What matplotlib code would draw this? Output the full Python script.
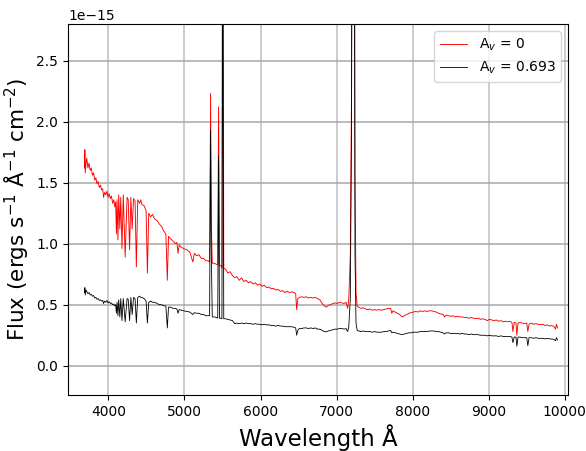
import numpy as np
import matplotlib
matplotlib.use("Agg")
import matplotlib.pyplot as plt

# Wavelength (Angstrom)
wavelength = [
    3685, 3690, 3695, 3705, 3715, 3730, 3745, 3760, 3775, 3790,
    3805, 3820, 3835, 3850, 3865, 3880, 3895, 3910, 3925, 3935,
    3950, 3965, 3980, 3995, 4010, 4025, 4040, 4055, 4070, 4085,
    4095, 4105, 4113, 4125, 4135, 4150, 4162, 4178, 4195, 4220,
    4245, 4260, 4278, 4295, 4312, 4330, 4350, 4367, 4385, 4410,
    4425, 4440, 4470, 4495, 4512, 4530, 4555, 4580, 4610, 4640,
    4670, 4700, 4730, 4755, 4774, 4790, 4820, 4850, 4880, 4900,
    4915, 4930, 4960, 4990, 5030, 5070, 5110, 5130, 5160, 5190,
    5220, 5250, 5280, 5310, 5330, 5343, 5352, 5365, 5395, 5420,
    5437, 5448, 5460, 5480, 5492, 5503, 5516, 5540, 5570, 5600,
    5630, 5660, 5690, 5720, 5750, 5780, 5810, 5840, 5870, 5900,
    5930, 5960, 5990, 6020, 6050, 6080, 6110, 6140, 6170, 6200,
    6230, 6260, 6290, 6320, 6350, 6380, 6410, 6440, 6462, 6475,
    6490, 6510, 6540, 6570, 6600, 6630, 6660, 6690, 6720, 6750,
    6780, 6810, 6840, 6865, 6890, 6920, 6950, 6980, 7010, 7040,
    7070, 7100, 7125, 7145, 7160, 7180, 7195, 7210, 7228, 7242,
    7255, 7270, 7290, 7320, 7350, 7380, 7410, 7440, 7470, 7500,
    7530, 7560, 7590, 7620, 7650, 7680, 7710, 7725, 7740, 7770,
    7800, 7830, 7860, 7890, 7920, 7950, 7980, 8010, 8040, 8070,
    8100, 8130, 8160, 8190, 8220, 8250, 8280, 8310, 8340, 8370,
    8400, 8420, 8440, 8470, 8500, 8530, 8560, 8590, 8620, 8650,
    8680, 8710, 8740, 8770, 8800, 8830, 8860, 8890, 8920, 8950,
    8980, 9010, 9040, 9070, 9100, 9130, 9160, 9190, 9220, 9250,
    9280, 9305, 9318, 9335, 9358, 9370, 9385, 9410, 9440, 9470,
    9500, 9514, 9530, 9560, 9590, 9620, 9650, 9680, 9710, 9740,
    9770, 9800, 9830, 9860, 9878, 9890, 9905,
]

# Flux for A_v = 0 (units of 1e-15 ergs/s/A/cm^2)
flux_av0 = [
    1.62, 1.77, 1.58, 1.66, 1.70, 1.62, 1.66, 1.60, 1.62, 1.56,
    1.58, 1.52, 1.54, 1.49, 1.51, 1.46, 1.48, 1.44, 1.45, 1.38,
    1.42, 1.40, 1.43, 1.38, 1.41, 1.37, 1.39, 1.33, 1.36, 1.30,
    1.34, 1.08, 1.36, 1.03, 1.40, 1.12, 1.38, 0.96, 1.40, 0.89,
    1.38, 1.36, 0.95, 1.38, 1.12, 1.37, 1.35, 0.81, 1.36, 1.33,
    1.36, 1.32, 1.31, 1.27, 0.76, 1.25, 1.22, 1.24, 1.20, 1.19,
    1.16, 1.14, 1.10, 1.08, 0.70, 1.06, 1.04, 1.02, 1.00, 1.01,
    0.92, 0.99, 0.97, 0.96, 0.95, 0.93, 0.85, 0.92, 0.90, 0.91,
    0.88, 0.88, 0.86, 0.86, 0.85, 2.23, 1.17, 0.84, 0.84, 0.83,
    0.83, 2.12, 0.82, 0.82, 0.80, 6.00, 0.80, 0.79, 0.76, 0.77,
    0.74, 0.72, 0.73, 0.70, 0.72, 0.69, 0.70, 0.68, 0.69, 0.67,
    0.68, 0.66, 0.67, 0.65, 0.66, 0.64, 0.645, 0.63, 0.635, 0.62,
    0.625, 0.61, 0.615, 0.60, 0.61, 0.60, 0.605, 0.60, 0.59, 0.46,
    0.55, 0.56, 0.565, 0.56, 0.565, 0.555, 0.56, 0.555, 0.56, 0.55,
    0.54, 0.51, 0.49, 0.48, 0.495, 0.50, 0.51, 0.515, 0.51, 0.52,
    0.515, 0.51, 0.52, 0.47, 0.55, 0.90, 2.15, 9.0, 9.0, 1.5,
    0.60, 0.49, 0.48, 0.47, 0.475, 0.465, 0.46, 0.465, 0.455, 0.46,
    0.455, 0.46, 0.455, 0.46, 0.465, 0.47, 0.47, 0.43, 0.45, 0.44,
    0.43, 0.42, 0.40, 0.41, 0.42, 0.43, 0.435, 0.44, 0.445, 0.44,
    0.45, 0.445, 0.45, 0.445, 0.45, 0.45, 0.445, 0.44, 0.43, 0.425,
    0.42, 0.40, 0.415, 0.41, 0.405, 0.41, 0.40, 0.405, 0.40, 0.40,
    0.395, 0.395, 0.39, 0.395, 0.39, 0.385, 0.39, 0.38, 0.385, 0.38,
    0.37, 0.38, 0.375, 0.37, 0.375, 0.365, 0.37, 0.36, 0.365, 0.36,
    0.365, 0.355, 0.28, 0.355, 0.35, 0.25, 0.35, 0.355, 0.35, 0.345,
    0.35, 0.28, 0.34, 0.35, 0.34, 0.345, 0.34, 0.335, 0.34, 0.33,
    0.335, 0.325, 0.33, 0.32, 0.30, 0.34, 0.31,
]

# Flux for A_v = 0.693 (units of 1e-15 ergs/s/A/cm^2)
flux_av0693 = [
    0.60, 0.64, 0.58, 0.62, 0.61, 0.59, 0.60, 0.58, 0.585, 0.57,
    0.575, 0.555, 0.56, 0.545, 0.55, 0.535, 0.54, 0.53, 0.535, 0.51,
    0.53, 0.52, 0.535, 0.515, 0.525, 0.51, 0.515, 0.50, 0.505, 0.49,
    0.50, 0.43, 0.52, 0.41, 0.54, 0.40, 0.55, 0.37, 0.55, 0.36,
    0.55, 0.545, 0.37, 0.56, 0.42, 0.56, 0.55, 0.35, 0.56, 0.57,
    0.56, 0.56, 0.55, 0.53, 0.35, 0.52, 0.53, 0.52, 0.52, 0.51,
    0.50, 0.50, 0.49, 0.49, 0.31, 0.48, 0.48, 0.47, 0.47, 0.465,
    0.43, 0.46, 0.455, 0.45, 0.445, 0.44, 0.42, 0.435, 0.43, 0.43,
    0.42, 0.42, 0.41, 0.41, 0.41, 1.93, 0.95, 0.40, 0.40, 0.395,
    0.39, 1.72, 0.39, 0.39, 0.385, 3.50, 0.385, 0.385, 0.38, 0.375,
    0.37, 0.345, 0.35, 0.345, 0.35, 0.345, 0.35, 0.345, 0.345, 0.34,
    0.345, 0.34, 0.34, 0.335, 0.34, 0.335, 0.335, 0.33, 0.33, 0.325,
    0.33, 0.325, 0.325, 0.32, 0.32, 0.32, 0.32, 0.315, 0.31, 0.25,
    0.29, 0.305, 0.305, 0.31, 0.31, 0.305, 0.31, 0.305, 0.31, 0.30,
    0.30, 0.29, 0.28, 0.278, 0.285, 0.29, 0.295, 0.30, 0.30, 0.305,
    0.305, 0.30, 0.305, 0.28, 0.32, 0.55, 1.85, 5.0, 5.0, 0.9,
    0.35, 0.29, 0.285, 0.28, 0.285, 0.28, 0.28, 0.28, 0.275, 0.28,
    0.275, 0.275, 0.275, 0.28, 0.28, 0.285, 0.29, 0.27, 0.275, 0.27,
    0.265, 0.26, 0.255, 0.26, 0.265, 0.27, 0.27, 0.275, 0.275, 0.275,
    0.28, 0.28, 0.28, 0.28, 0.285, 0.285, 0.285, 0.28, 0.28, 0.275,
    0.27, 0.26, 0.27, 0.27, 0.265, 0.265, 0.265, 0.265, 0.26, 0.265,
    0.26, 0.26, 0.255, 0.26, 0.255, 0.255, 0.255, 0.25, 0.25, 0.25,
    0.245, 0.25, 0.245, 0.245, 0.245, 0.24, 0.245, 0.24, 0.24, 0.24,
    0.24, 0.235, 0.19, 0.235, 0.235, 0.16, 0.235, 0.235, 0.23, 0.23,
    0.23, 0.165, 0.23, 0.23, 0.225, 0.23, 0.225, 0.225, 0.225, 0.22,
    0.225, 0.22, 0.22, 0.215, 0.205, 0.23, 0.21,
]

series_labels = ["A$_v$ = 0", "A$_v$ = 0.693"]
flux_unit = 1e-15

assert len(wavelength) == len(flux_av0) == len(flux_av0693), (
    len(wavelength), len(flux_av0), len(flux_av0693))

wl = np.array(wavelength, dtype=float)
f0 = np.array(flux_av0) * flux_unit
f1 = np.array(flux_av0693) * flux_unit

fig = plt.figure(figsize=(5.86, 4.51), dpi=100)
ax = fig.add_axes([0.116, 0.124, 0.853, 0.823])

ax.plot(wl, f0, color="red", lw=0.65, label=series_labels[0])
ax.plot(wl, f1, color="black", lw=0.6, label=series_labels[1])

ax.set_xlim(3468, 10040)
ax.set_ylim(-0.24e-15, 2.8e-15)
ax.set_xticks([4000, 5000, 6000, 7000, 8000, 9000, 10000])
ax.set_yticks(np.arange(0, 2.6, 0.5) * flux_unit)

ax.xaxis.grid(True, color="#c8c8c8", lw=1.3)
ax.yaxis.grid(True, color="#a8a8a8", lw=1.1)
ax.set_axisbelow(True)

ax.tick_params(labelsize=10)
ax.yaxis.get_offset_text().set_fontsize(10)

ax.set_xlabel("Wavelength Å", fontsize=16.5)
ax.set_ylabel("Flux (ergs s$^{-1}$ Å$^{-1}$ cm$^{-2}$)", fontsize=15.5)

ax.legend(loc="upper right", fontsize=10)

fig.savefig("out.png", dpi=100)
